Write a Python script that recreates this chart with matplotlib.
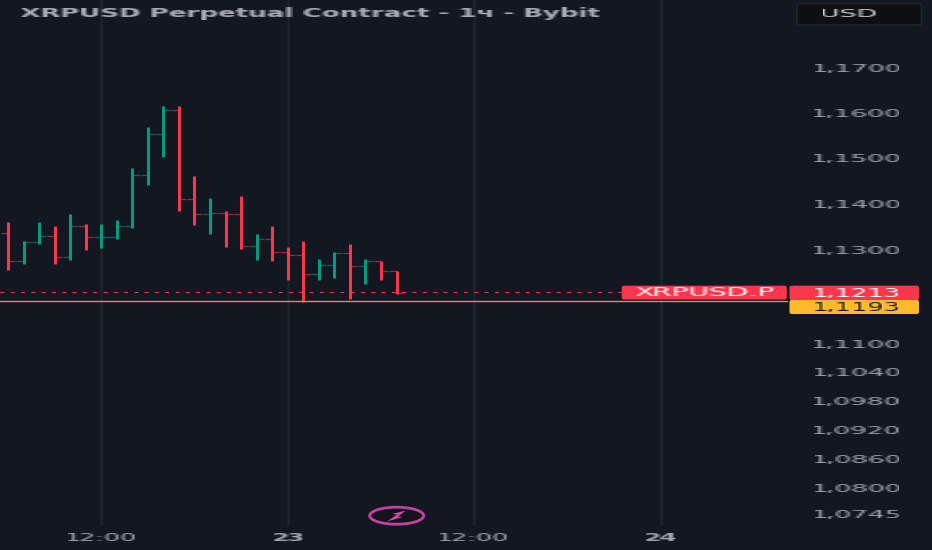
import numpy as np
import matplotlib
matplotlib.use("Agg")
import matplotlib.pyplot as plt
from matplotlib.patches import FancyBboxPatch, Ellipse, Polygon

# hourly bars
opens = [1.1339, 1.1279, 1.1319, 1.1333, 1.1288, 1.1354, 1.1330, 1.1331, 1.1355, 1.1464, 1.1554, 1.1608, 1.1413,
         1.1380, 1.1382, 1.1380, 1.1311, 1.1327, 1.1299, 1.1293, 1.1251, 1.1271, 1.1297, 1.1268, 1.1280, 1.1258]
highs = [1.1363, 1.1322, 1.1363, 1.1355, 1.1380, 1.1359, 1.1358, 1.1367, 1.1481, 1.1569, 1.1617, 1.1617, 1.1462,
         1.1414, 1.1387, 1.1419, 1.1337, 1.1354, 1.1309, 1.1322, 1.1284, 1.1298, 1.1316, 1.1283, 1.1280, 1.1258]
lows = [1.1260, 1.1273, 1.1315, 1.1273, 1.1282, 1.1303, 1.1308, 1.1327, 1.1350, 1.1443, 1.1503, 1.1386, 1.1357,
        1.1337, 1.1309, 1.1304, 1.1281, 1.1279, 1.1238, 1.1192, 1.1239, 1.1243, 1.1198, 1.1231, 1.1238, 1.1209]
closes = [1.1279, 1.1319, 1.1333, 1.1288, 1.1354, 1.1330, 1.1331, 1.1355, 1.1464, 1.1554, 1.1608, 1.1413, 1.1380,
          1.1382, 1.1380, 1.1311, 1.1327, 1.1299, 1.1293, 1.1251, 1.1271, 1.1297, 1.1268, 1.1280, 1.1258, 1.1212]

price_ticks = [1.17, 1.16, 1.15, 1.14, 1.13, 1.11, 1.104, 1.098, 1.092, 1.086, 1.08, 1.0745]
price_labels = ["1,1700", "1,1600", "1,1500", "1,1400", "1,1300", "1,1100", "1,1040", "1,0980", "1,0920", "1,0860",
                "1,0800", "1,0745"]
time_ticks = [6, 18, 30, 42]
time_labels = ["12:00", "23", "12:00", "24"]
time_weights = ["normal", "bold", "normal", "bold"]
last_price = 1.1213
last_label = "1,1213"
mark_price = 1.1193
mark_label = "1,1193"
title = "XRPUSD Perpetual Contract - 1ч - Bybit"

BG = "#131722"
GRID = "#1f232d"
UP = "#089981"
DOWN = "#f7374b"
AXIS_TEXT = "#a3a6af"
W, H = 932, 550
PANE_W, PANE_H = 788, 526
BAR_STEP = 15.54


def stretch_x(factor):
    # agg filter: widens a drawn text about its middle, the reference is squashed
    def _filter(img, dpi):
        h, w = img.shape[:2]
        new_w = int(round(w * factor))
        pos = np.linspace(0, w - 1, new_w)
        lo = np.floor(pos).astype(int)
        hi = np.minimum(lo + 1, w - 1)
        frac = (pos - lo)[None, :]
        out = img[:, np.round(pos).astype(int), :].copy()
        out[..., 3] = img[:, lo, 3] * (1 - frac) + img[:, hi, 3] * frac
        return out, -(new_w - w) // 2, 0
    return _filter


fig = plt.figure(figsize=(W / 100, H / 100), dpi=100, facecolor=BG)
ax = fig.add_axes([0, 1 - PANE_H / H, PANE_W / W, PANE_H / H], facecolor=BG)
ax.set_yscale("log")
ax.set_xlim(-8 / BAR_STEP, (PANE_W - 8) / BAR_STEP)
ax.set_ylim(1.17 * np.exp(-(PANE_H - 68) / 5270), 1.17 * np.exp(68 / 5270))
ax.set_xticks([])
ax.set_yticks([])
ax.minorticks_off()
for s in ax.spines.values():
    s.set_visible(False)

for t in time_ticks:
    ax.axvline(t, color=GRID, lw=1.8, zorder=1)

for i in range(len(opens)):
    c = UP if closes[i] >= opens[i] else DOWN
    ax.hlines(opens[i], i - 0.47, i, color=c, lw=0.9, alpha=0.6, zorder=2)
    ax.hlines(closes[i], i, i + 0.47, color=c, lw=0.9, alpha=0.6, zorder=2)
    ax.vlines(i, lows[i], highs[i], color=c, lw=2.2, zorder=3)

ax.axhline(last_price, color=DOWN, lw=0.72, ls=(0, (4, 6.3)), zorder=2)
ax.axhline(mark_price, color="#d29a2e", lw=1.0, zorder=4)

# overlay in pixels for axis labels and badges
ov = fig.add_axes([0, 0, 1, 1], facecolor="none")
ov.set_xlim(0, W)
ov.set_ylim(H, 0)
ov.axis("off")
renderer = fig.canvas.get_renderer()


def wide_text(x0, x1, yc, s, size=8, color=AXIS_TEXT, weight="normal"):
    t = ov.text((x0 + x1) / 2, yc, s, ha="center", va="center", fontsize=size, color=color, fontweight=weight,
                family="DejaVu Sans", zorder=10)
    t.set_agg_filter(stretch_x((x1 - x0) / t.get_window_extent(renderer).width))
    return t


def price_y(p):
    return H - ax.transData.transform((0, p))[1]


def badge(x0, x1, y0, y1, color, edge="none"):
    ov.add_patch(FancyBboxPatch((x0, y0), x1 - x0, y1 - y0, boxstyle="round,pad=0,rounding_size=2", fc=color, ec=edge,
                                lw=1, zorder=6))


wide_text(21.7, 600, 13.5, title, size=8.3, color="#a9acb5", weight="bold")

badge(797, 921.5, 3.5, 25, "#0f0f11", "#24272f")
wide_text(822, 878, 14, "USD", color="#d1d4dc")

# axis labels sit a touch tighter than the bars
for p, lab in zip(price_ticks, price_labels):
    wide_text(812, 902.5, 68.8 + (price_y(p) - 68) * 5245 / 5270, lab)

for t, lab, wt in zip(time_ticks, time_labels, time_weights):
    xc = (t - ax.get_xlim()[0]) * BAR_STEP
    half = 36 if len(lab) > 2 else 16.5
    wide_text(xc - half, xc + half, 538, lab, weight=wt)

badge(621.7, 786.7, 285.7, 299.5, DOWN)
wide_text(635, 775, 292.7, "XRPUSD.P", color="white", size=8.5)
badge(789.5, 919, 300, 314, "#fdb92c")
badge(789.5, 919, 285.7, 300, DOWN)
wide_text(813, 902, 293.2, last_label, color="white", size=8.5)
wide_text(813, 902, 307.2, mark_label, color="#131722", size=8.5)

# bolt icon
ov.add_patch(Ellipse((396.7, 515.7), 54, 17, fc="#15121c", ec="#c2439d", lw=2.0, zorder=6))
ov.add_patch(Polygon([(387, 521.5), (397, 514.5), (392, 514), (406, 510.5), (398, 516.5), (402.5, 517)], fc="#d14aa8",
                     ec="none", zorder=7))

fig.savefig("out.png", dpi=100, facecolor=BG)
